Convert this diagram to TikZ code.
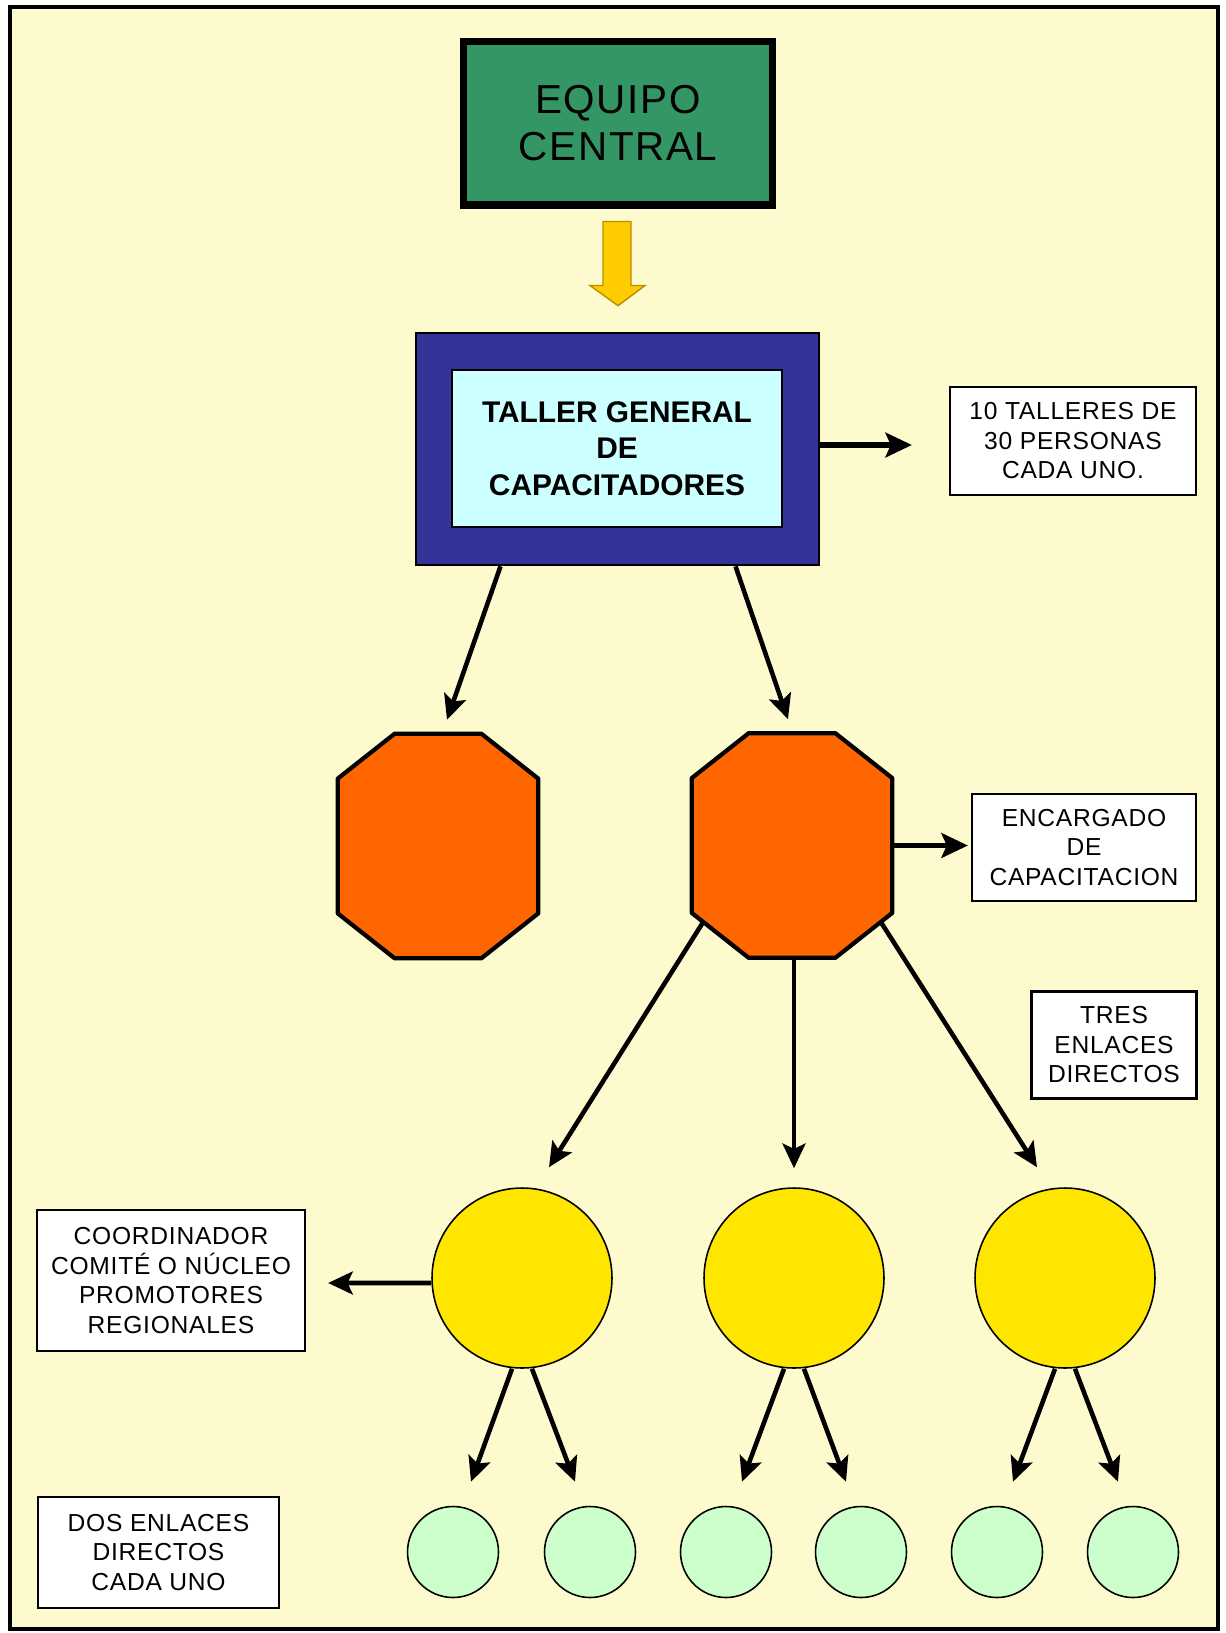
\documentclass[tikz,border=0pt]{standalone}
\usepackage{fontspec}
\setmainfont{Liberation Sans}
\usetikzlibrary{arrows.meta,calc}
\definecolor{bgc}{RGB}{253,251,205}
\definecolor{eqgreen}{RGB}{51,150,100}
\definecolor{navy}{RGB}{51,51,153}
\definecolor{paleblue}{RGB}{204,255,255}
\definecolor{orng}{RGB}{255,102,0}
\definecolor{yel}{RGB}{255,230,0}
\definecolor{mint}{RGB}{204,255,204}
\definecolor{gold}{RGB}{255,204,0}
\definecolor{golddk}{RGB}{190,140,0}
\newcommand\drawocta[1]{%
  \draw[octdraw] ($(#1.north west)+(57,0)$) -- ($(#1.north east)+(-57,0)$)
    -- ($(#1.north east)+(0,45)$) -- ($(#1.south east)+(0,-45)$)
    -- ($(#1.south east)+(-57,0)$) -- ($(#1.south west)+(57,0)$)
    -- ($(#1.south west)+(0,-45)$) -- ($(#1.north west)+(0,45)$) -- cycle;}
\begin{document}
\begin{tikzpicture}[x=0.02cm,y=-0.02cm,
  arr/.style={line width=2.6pt,-{Stealth[length=14pt,width=13pt,inset=3pt]}},
  harr/.style={line width=3.2pt,-{Stealth[length=15pt,width=14pt,inset=3pt]}},
  lbl/.style={draw=black,line width=1.3pt,fill=white,align=center,inner sep=0pt,
    font=\fontsize{14}{16.8}\selectfont\addfontfeature{LetterSpace=3}},
  octa/.style={inner sep=0pt,minimum width=4cm,minimum height=4.48cm},
  octdraw/.style={draw=black,line width=2.4pt,fill=orng,line join=round},
  ycirc/.style={circle,draw=black,line width=0.9pt,fill=yel,minimum size=3.6cm,inner sep=0pt},
  gcirc/.style={circle,draw=black,line width=0.9pt,fill=mint,minimum size=1.82cm,inner sep=0pt}]
\useasboundingbox (0,0) rectangle (1225,1633);
\fill[white] (0,0) rectangle (1225,1633);
\draw[line width=2.5pt,fill=bgc] (10,7) rectangle (1218,1629);

% top box
\node[draw=black,line width=4pt,fill=eqgreen,minimum width=6.2cm,minimum height=3.28cm,
  inner sep=0pt,align=center,font=\fontsize{23}{26.5}\selectfont\addfontfeature{LetterSpace=4}]
  (eq) at (618,123) {EQUIPO\\CENTRAL};

% outer blue and inner box
\node[draw=black,line width=1.5pt,fill=navy,minimum width=8.06cm,minimum height=4.64cm] (cap) at (617.5,449) {};
\node[draw=black,line width=1pt,fill=paleblue,minimum width=6.6cm,minimum height=3.14cm,
  align=center,inner sep=0pt,font=\bfseries\fontsize{17}{20.7}\selectfont]
  (taller) at (617,448.5) {TALLER GENERAL\\DE\\CAPACITADORES};

% block arrow
\draw[fill=gold,draw=golddk,line width=0.8pt]
  ($(eq.south)+(-15,13)$) -- ($(eq.south)+(13,13)$) -- ($(eq.south)+(13,77)$)
  -- ($(eq.south)+(27,77)$) -- ($(cap.north)+(0.5,-26)$) -- ($(eq.south)+(-28,77)$)
  -- ($(eq.south)+(-15,77)$) -- cycle;

\node[lbl,minimum width=4.92cm,minimum height=2.16cm] (t10) at (1073,441) {10 TALLERES DE\\30 PERSONAS\\CADA UNO.};
\draw[harr,shorten >=0.74cm] ([yshift=0.08cm]cap.east) -- ([yshift=0.08cm]cap.east -| t10.west);

% octagons
\node[octa] (o1) at (438,846) {};
\node[octa] (o2) at (792,845.5) {};
\drawocta{o1}
\drawocta{o2}
\draw[arr] ($(cap.south)+(-117,0)$) -- ($(o1.north)+(9,-14)$);
\draw[arr] ($(cap.south)+(118,0)$) -- ($(o2.north)+(-4,-14)$);

\node[lbl,minimum width=4.48cm,minimum height=2.14cm] (enc) at (1084,847.5) {ENCARGADO\\DE\\CAPACITACION};
\draw[harr,shorten >=0.06cm] (o2.east) -- (o2.east -| enc.west);

\node[lbl,minimum width=3.3cm,minimum height=2.14cm] (tres) at (1114,1045) {TRES\\ENLACES\\DIRECTOS};

% yellow circles
\node[ycirc] (yc1) at (522,1278) {};
\node[ycirc] (yc2) at (794,1278) {};
\node[ycirc] (yc3) at (1065,1278) {};
\draw[arr] ($(o2.south west)+(11,-35)$) -- ($(yc1.north)+(27,-20)$);
\draw[arr] ($(o2.south)+(2,0)$) -- ($(yc2.north)+(0,-19)$);
\draw[arr] ($(o2.south east)+(-11,-35)$) -- ($(yc3.north)+(-28,-20)$);

\node[lbl,minimum width=5.36cm,minimum height=2.82cm] (coord) at (171,1280.5) {COORDINADOR\\COMITÉ O NÚCLEO\\PROMOTORES\\REGIONALES};
\draw[arr] ($(yc1.west)+(0,5)$) -- ($(coord.east)+(22,2.5)$);

\node[lbl,minimum width=4.82cm,minimum height=2.22cm] (dos) at (158.5,1552.5) {DOS ENLACES\\DIRECTOS\\CADA UNO};

% small circles
\node[gcirc] (g1) at (453,1552) {};
\node[gcirc] (g2) at (590,1552) {};
\node[gcirc] (g3) at (726,1552) {};
\node[gcirc] (g4) at (861,1552) {};
\node[gcirc] (g5) at (997,1552) {};
\node[gcirc] (g6) at (1133,1552) {};
\draw[arr] ($(yc1.south)+(-10,0)$) -- ($(g1.north)+(18,-24)$);
\draw[arr] ($(yc1.south)+(10,0)$) -- ($(g2.north)+(-15,-24)$);
\draw[arr] ($(yc2.south)+(-10,0)$) -- ($(g3.north)+(16,-24)$);
\draw[arr] ($(yc2.south)+(10,0)$) -- ($(g4.north)+(-15,-24)$);
\draw[arr] ($(yc3.south)+(-10,0)$) -- ($(g5.north)+(16,-24)$);
\draw[arr] ($(yc3.south)+(10,0)$) -- ($(g6.north)+(-15,-24)$);
\end{tikzpicture}
\end{document}
